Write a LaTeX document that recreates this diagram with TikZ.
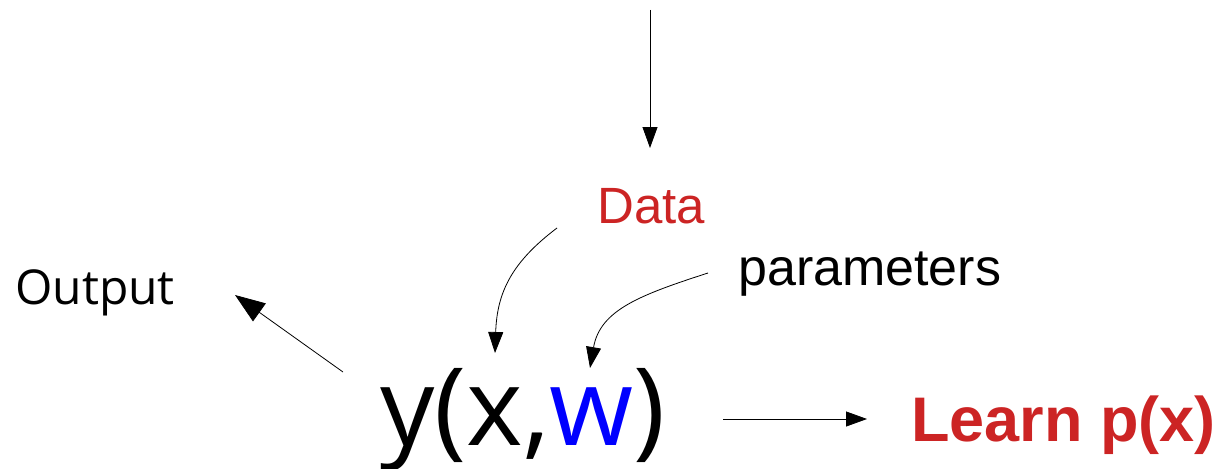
\documentclass[tikz,border=0pt]{standalone}
\usepackage{fontspec}
\setmainfont{Liberation Sans}
\newfontfamily\opensans{Open Sans}
\usetikzlibrary{arrows.meta, positioning, calc}
\definecolor{dred}{RGB}{204,36,36}
\definecolor{wblue}{RGB}{0,0,255}

\begin{document}
\begin{tikzpicture}[x=1pt, y=-1pt, >={Triangle[length=21pt,width=15pt]},
  lbl/.style={anchor=base west, inner sep=0pt},
  arr/.style={->, line width=0.8pt},
  bigarr/.style={-{Triangle[length=30pt,width=22pt]}, line width=0.8pt}]
  \useasboundingbox (0,0) rectangle (1222,468);
  % text
  \node[lbl, text=dred, font=\fontsize{51}{60}\selectfont] (data) at (597,223) {Data};
  \node[lbl, font=\fontsize{52}{60}\selectfont] (params) at (738,285) {parameters};
  \node[lbl, font=\opensans\fontsize{48}{56}\selectfont] (output) at (15,304) {Output};
  \node[lbl, font=\opensans\fontsize{108}{120}\selectfont] (model) at (380,445) {y(x,\textcolor{wblue}{w})};
  \node[lbl, text=dred, font=\bfseries\fontsize{63}{70}\selectfont] (learn) at (911,441) {Learn p(x)};
  % arrow ends
  \coordinate (top) at (650,10);
  \coordinate (topTip) at (650,148);
  \coordinate (dataTail) at (557,228);
  \coordinate (dataTip) at (495,353);
  \coordinate (parTail) at (708,273);
  \coordinate (parTip) at (590,368);
  \coordinate (outTail) at (343,372);
  \coordinate (outTip) at (235,295);
  \coordinate (learnTail) at (723,419);
  \coordinate (learnTip) at (867,419);
  % arrows
  \draw[arr] (top) -- (topTip);
  \draw[arr] (dataTail) .. controls (512,262) and (497,292) .. (dataTip);
  \draw[arr] (parTail) .. controls (640,295) and (600,310) .. (parTip);
  \draw[bigarr] (outTail) -- (outTip);
  \draw[arr] (learnTail) -- (learnTip);
\end{tikzpicture}
\end{document}
